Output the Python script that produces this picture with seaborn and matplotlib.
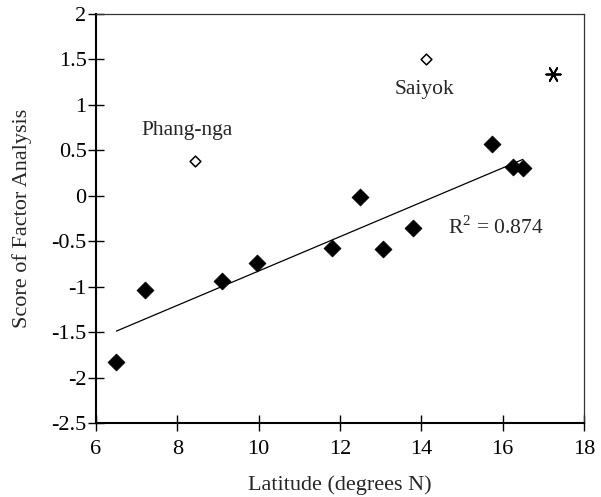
import matplotlib
matplotlib.use("Agg")
import matplotlib.pyplot as plt
import seaborn as sns
import pandas as pd

# Data
lat_filled = [6.5, 7.2, 9.1, 9.95, 11.8, 12.5, 13.05, 13.8, 15.75, 16.25, 16.5]
score_filled = [-1.83, -1.04, -0.94, -0.74, -0.57, -0.01, -0.59, -0.35, 0.57, 0.32, 0.31]
open_names = ["Phang-nga", "Saiyok"]
lat_open = [8.43, 14.11]
score_open = [0.38, 1.50]
lat_star = [17.24]
score_star = [1.34]
r2_label = "R$^2$ = 0.874"

sns.set_style("white")
plt.rcParams["font.family"] = ["Liberation Serif", "DejaVu Serif"]
plt.rcParams["mathtext.fontset"] = "custom"
plt.rcParams["mathtext.rm"] = "Liberation Serif"

FS = 15.5
FT = 16

fig = plt.figure(figsize=(6.01, 4.97), dpi=100)
ax = fig.add_axes([0.1597, 0.1489, 0.8120, 0.8229])

df_f = pd.DataFrame({"lat": lat_filled, "score": score_filled})
df_o = pd.DataFrame({"lat": lat_open, "score": score_open, "name": open_names})
df_s = pd.DataFrame({"lat": lat_star, "score": score_star})

sns.regplot(data=df_f, x="lat", y="score", scatter=False, ci=None, truncate=True,
            line_kws=dict(color="black", lw=0.9), ax=ax)
sns.scatterplot(data=df_f, x="lat", y="score", marker="D", s=75, color="black",
                edgecolor="black", linewidth=0.5, ax=ax, zorder=3)
sns.scatterplot(data=df_o, x="lat", y="score", marker="D", s=30, facecolor="white",
                edgecolor="black", linewidth=1.1, ax=ax, zorder=3)
sns.scatterplot(data=df_s, x="lat", y="score", marker=(6, 2, 90), s=110, color="black",
                edgecolor="black", linewidth=1.3, ax=ax, zorder=3)

ax.text(8.25, 0.72, open_names[0], ha="center", va="center", fontsize=FS)
ax.text(14.09, 1.17, open_names[1], ha="center", va="center", fontsize=FS)
ax.text(14.65, -0.35, r2_label, ha="left", va="center", fontsize=FS)

ax.set_xlim(6, 18)
ax.set_ylim(-2.5, 2)
ax.set_xticks([6, 8, 10, 12, 14, 16, 18])
ax.set_yticks([-2.5, -2, -1.5, -1, -0.5, 0, 0.5, 1, 1.5, 2])
ax.set_xticklabels(["6", "8", "10", "12", "14", "16", "18"])
ax.set_yticklabels(["-2.5", "-2", "-1.5", "-1", "-0.5", "0", "0.5", "1", "1.5", "2"])
ax.tick_params(axis="both", direction="inout", length=11.5, width=1.0, colors="black",
               labelsize=FT, bottom=True, left=True)
ax.tick_params(axis="x", pad=6.5)
ax.tick_params(axis="y", pad=1)

for side in ["left", "bottom"]:
    ax.spines[side].set_color("black")
    ax.spines[side].set_linewidth(1.5)
for side in ["top", "right"]:
    ax.spines[side].set_visible(True)
    ax.spines[side].set_color("#333333")
    ax.spines[side].set_linewidth(0.9)

ax.set_xlabel("Latitude (degrees N)", fontsize=FT, labelpad=12)
ax.set_ylabel("Score of Factor Analysis", fontsize=FT, labelpad=14)

fig.savefig("out.png", dpi=100)
